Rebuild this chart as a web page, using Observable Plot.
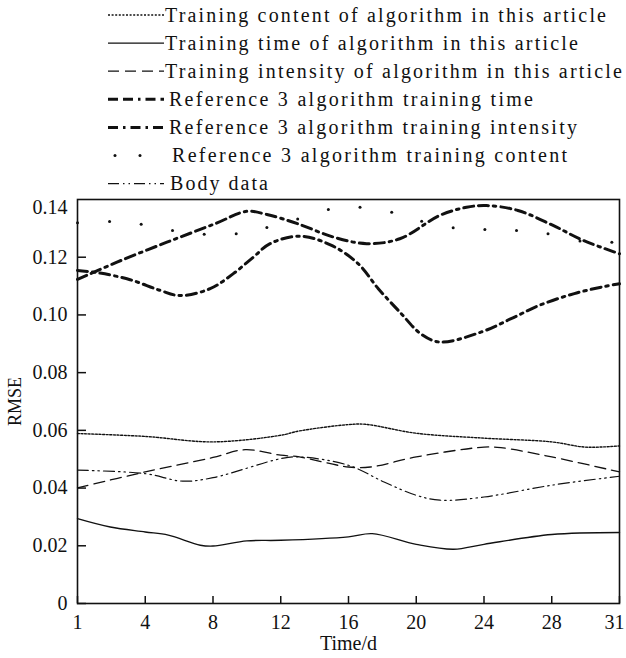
<!DOCTYPE html>
<html><head><meta charset="utf-8">
<script src="https://cdn.jsdelivr.net/npm/d3@7"></script>
<script src="https://cdn.jsdelivr.net/npm/@observablehq/plot@0.6"></script>
<style>
body{margin:0;background:#fff;}
#legend,#chart{display:block;line-height:0}
</style>
</head><body><div id="legend"></div><div id="chart"></div>
<script>
// ---------- data ----------
const xTicks = [1, 4, 8, 12, 16, 20, 24, 28, 31];
const xTicksMain = [1, 4, 8, 12, 16, 20, 24, 28];
const xTickLast = [31];
const yTicks = [0, 0.02, 0.04, 0.06, 0.08, 0.10, 0.12];
const yTopTick = [0.14];

const seriesNames = [
  "Training content of algorithm in this article",
  "Training time of algorithm in this article",
  "Training intensity of algorithm in this article",
  "Reference 3 algorithm training time",
  "Reference 3 algorithm training intensity",
  "Reference 3 algorithm training content",
  "Body data"
];

const contentDays = [1, 4, 8, 12, 13.1, 16, 17, 20, 24, 28, 29.5, 31];
const contentVals = [0.0589, 0.0579, 0.0560, 0.0583, 0.0598, 0.0620, 0.0621, 0.0590, 0.0573, 0.0560, 0.0542, 0.0546];

const timeDays = [1, 2.45, 4, 5.36, 7.25, 8, 10, 12, 16, 17.4, 20, 22.2, 24, 28, 31];
const timeVals = [0.0294, 0.0265, 0.0248, 0.0237, 0.0202, 0.0199, 0.0217, 0.0219, 0.0231, 0.0242, 0.0205, 0.0188, 0.0205, 0.0239, 0.0246];

const intensityDays = [1, 4, 8, 9.9, 12, 13.1, 16, 17.3, 20, 24, 25, 28, 31];
const intensityVals = [0.0401, 0.0456, 0.0506, 0.0533, 0.0514, 0.0508, 0.0473, 0.0473, 0.0508, 0.0542, 0.0540, 0.0508, 0.0456];

const ref3TimeDays = [1, 2.75, 5.28, 8.12, 10, 11.18, 13, 15.1, 17.07, 19.03, 21.39, 22.97, 24.15, 26, 28.06, 29.4, 31];
const ref3TimeVals = [0.1123, 0.1183, 0.1252, 0.1316, 0.1359, 0.1348, 0.1316, 0.1270, 0.1247, 0.1264, 0.1345, 0.1373, 0.1379, 0.1362, 0.1310, 0.1258, 0.1212];

const ref3IntDays = [1, 2, 3.33, 4.88, 6.06, 7.83, 9.2, 10.38, 11.37, 13.13, 15, 16.58, 17.76, 19.03, 20.3, 21.4, 23.85, 25.6, 27.26, 29, 30.36, 31];
const ref3IntVals = [0.1154, 0.1145, 0.1122, 0.1085, 0.1067, 0.1091, 0.1143, 0.1200, 0.1247, 0.1273, 0.1241, 0.1177, 0.1091, 0.1010, 0.0933, 0.0906, 0.0941, 0.0987, 0.1033, 0.1074, 0.1099, 0.1108];

const ref3ContentDays = [1, 2.42, 3.82, 5.61, 7.48, 9.37, 11.18, 13, 14.81, 16.68, 18.55, 20.32, 22.18, 24.05, 25.92, 27.78, 29.25, 30.66];
const ref3ContentVals = [0.1319, 0.1324, 0.1314, 0.1293, 0.1280, 0.1281, 0.1303, 0.1332, 0.1365, 0.1373, 0.1356, 0.1325, 0.1302, 0.1296, 0.1293, 0.1281, 0.1256, 0.1252];

const bodyDays = [1, 4, 6.2, 8, 12, 13.1, 16, 18.1, 20, 21.4, 24, 28, 31];
const bodyVals = [0.0462, 0.0450, 0.0424, 0.0436, 0.0502, 0.0508, 0.0479, 0.0421, 0.0375, 0.0358, 0.0369, 0.0410, 0.0441];

// ---------- styles ----------
const FONT = "'Liberation Serif', 'Times New Roman', serif";
const lineStyles = [
  {dash: "2,1.6", width: 1.4},
  {dash: null, width: 1.4},
  {dash: "11,6", width: 1.3},
  {dash: "10,5,10,5,2.5,5", width: 3},
  {dash: "10,5,2.5,5", width: 3},
  null,
  {dash: "11,4,1.5,4,1.5,4", width: 1.2}
];
// legend text placement (start x, rendered width)
const legendTextX = [165, 165, 165, 169, 169, 172, 170];
const legendTextW = [441, 413, 457, 364, 408, 395, 98];

const zip = (days, vals) => days.map((d, i) => ({day: d, value: vals[i]}));
const lineData = [
  zip(contentDays, contentVals),
  zip(timeDays, timeVals),
  zip(intensityDays, intensityVals),
  zip(ref3TimeDays, ref3TimeVals),
  zip(ref3IntDays, ref3IntVals),
  null,
  zip(bodyDays, bodyVals)
];
const dotData = zip(ref3ContentDays, ref3ContentVals);

// ---------- legend ----------
const W = 626;
const leg = d3.select("#legend").append("svg").attr("width", W).attr("height", 195)
  .style("font-family", FONT).style("font-size", "20px");
seriesNames.forEach((name, i) => {
  const cy = 15 + i * 28.1;
  const s = lineStyles[i];
  if (s) {
    leg.append("line").attr("x1", 108).attr("x2", 164).attr("y1", cy).attr("y2", cy)
      .attr("stroke", "#111").attr("stroke-width", s.width)
      .attr("stroke-dasharray", s.dash);
  } else {
    [115, 140].forEach(cx => leg.append("circle").attr("cx", cx).attr("cy", cy).attr("r", 1.5).attr("fill", "#111"));
  }
  leg.append("text").attr("x", legendTextX[i]).attr("y", cy + 6.5).attr("fill", "#111")
    .attr("textLength", legendTextW[i]).attr("lengthAdjust", "spacing").text(name);
});

// ---------- chart ----------
const H = 463, mt = 4, mb = 55, ml = 77, mr = 7;
const xRange = xTicks.map((_, i) => ml + i * (W - ml - mr) / (xTicks.length - 1));
const innerH = H - mt - mb;
const innerW = W - ml - mr;

const marks = [];
lineData.forEach((data, i) => {
  if (!data) return;
  const s = lineStyles[i];
  marks.push(Plot.line(data, {
    x: "day", y: "value", curve: "catmull-rom",
    stroke: "#111", strokeWidth: s.width,
    strokeDasharray: s.dash || undefined
  }));
});
marks.push(Plot.dot(dotData, {x: "day", y: "value", r: 1.5, fill: "#111", stroke: null}));
marks.push(
  Plot.tickX(xTicks, {x: d => d, stroke: "#111", strokeWidth: 1.5, insetTop: innerH - 7}),
  Plot.tickY(yTicks, {y: d => d, stroke: "#111", strokeWidth: 1.5, insetRight: innerW - 9}),
  Plot.axisX({ticks: xTicksMain, tickSize: 0, tickPadding: 11, tickFormat: d => String(d), label: null,
    fontSize: 20, fill: "#111"}),
  Plot.axisX({ticks: xTickLast, tickSize: 0, tickPadding: 11, tickFormat: d => String(d), label: null,
    fontSize: 20, fill: "#111", dx: -5}),
  Plot.axisY({ticks: yTicks, tickSize: 0, tickPadding: 10, tickFormat: d => d === 0 ? "0" : d.toFixed(2), label: null,
    fontSize: 20, fill: "#111"}),
  Plot.text(yTopTick, {y: d => d, text: d => d.toFixed(2), frameAnchor: "left", textAnchor: "end", dx: -10, dy: 8,
    fontSize: 20, fill: "#111"}),
  Plot.text(["Time/d"], {frameAnchor: "bottom", dy: 46, fontSize: 20, fill: "#111", textAnchor: "middle"}),
  Plot.text(["RMSE"], {frameAnchor: "left", dx: -62, rotate: -90, fontSize: 18, fill: "#111", textAnchor: "middle"}),
  Plot.frame({stroke: "#111", strokeWidth: 1.6})
);

const chart = Plot.plot({
  width: W, height: H,
  marginTop: mt, marginBottom: mb, marginLeft: ml, marginRight: mr,
  style: {fontFamily: FONT, fontSize: "20px", color: "#111", background: "#fff"},
  x: {type: "linear", domain: xTicks, range: xRange, axis: null},
  y: {domain: [0, 0.14], axis: null},
  marks
});
document.getElementById("chart").appendChild(chart);
</script>
</body></html>
